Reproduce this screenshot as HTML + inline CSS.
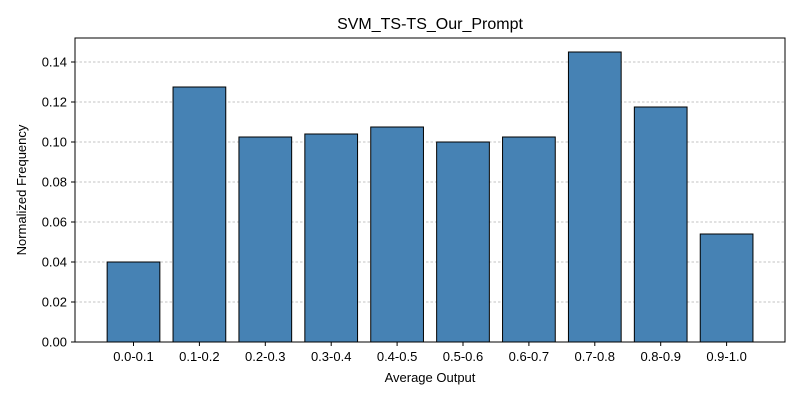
<!DOCTYPE html>
<html><head><meta charset="utf-8"><style>body{margin:0;background:#fff}svg{display:block;font-family:"Liberation Sans","DejaVu Sans",sans-serif}</style></head>
<body>
<svg id="chart" width="800" height="400">
<rect x="0" y="0" width="800" height="400" fill="#fff"/>
<g id="grid"></g><g id="bars"></g><g id="axes"></g>
<rect x="75" y="38" width="710" height="304" fill="none" stroke="#000" stroke-width="1"/>
<text x="430" y="29" font-size="16" text-anchor="middle">SVM_TS-TS_Our_Prompt</text>
<text x="430" y="382" font-size="13" text-anchor="middle">Average Output</text>
<text x="26" y="190" font-size="13" text-anchor="middle" transform="rotate(-90 26 190)">Normalized Frequency</text>
</svg>
<script>
const categories=["0.0-0.1","0.1-0.2","0.2-0.3","0.3-0.4","0.4-0.5","0.5-0.6","0.6-0.7","0.7-0.8","0.8-0.9","0.9-1.0"];
const values=[0.040,0.1275,0.1025,0.104,0.1075,0.100,0.1025,0.145,0.1175,0.054];
const yTicks=[0,0.02,0.04,0.06,0.08,0.10,0.12,0.14];
const yTickLabels=["0.00","0.02","0.04","0.06","0.08","0.10","0.12","0.14"];
const NS="http://www.w3.org/2000/svg";
const y=v=>342-v/0.152*304;
const step=65.9, x=i=>133.5+step*i, bw=0.8*step;
function mk(t,a,p){const e=document.createElementNS(NS,t);for(const k in a)e.setAttribute(k,a[k]);document.getElementById(p).appendChild(e);return e;}
yTicks.forEach((t,i)=>{
 if(t>0){const g=mk('line',{x1:75,x2:785,y1:y(t),y2:y(t),stroke:'#b0b0b0','stroke-width':0.7,'stroke-dasharray':'2.5,2'},'grid');
 
 }
 const tk=mk('line',{x1:71,x2:75,y1:y(t),y2:y(t),stroke:'#000'},'axes');
 
 
 const l=mk('text',{x:67,y:y(t)+4.5,'font-size':13,'text-anchor':'end'},'axes');l.textContent=yTickLabels[i];
 
 
});
categories.forEach((c,i)=>{
 const r=mk('rect',{x:x(i)-bw/2,y:y(values[i]),width:bw,height:y(0)-y(values[i]),fill:'#4682b4',stroke:'#000','stroke-width':1},'bars');
 
 
 const tk=mk('line',{x1:x(i),x2:x(i),y1:342,y2:346,stroke:'#000'},'axes');
 
 
 const l=mk('text',{x:x(i),y:361,'font-size':13,'text-anchor':'middle'},'axes');l.textContent=c;
 
 
});
</script>
</body></html>
